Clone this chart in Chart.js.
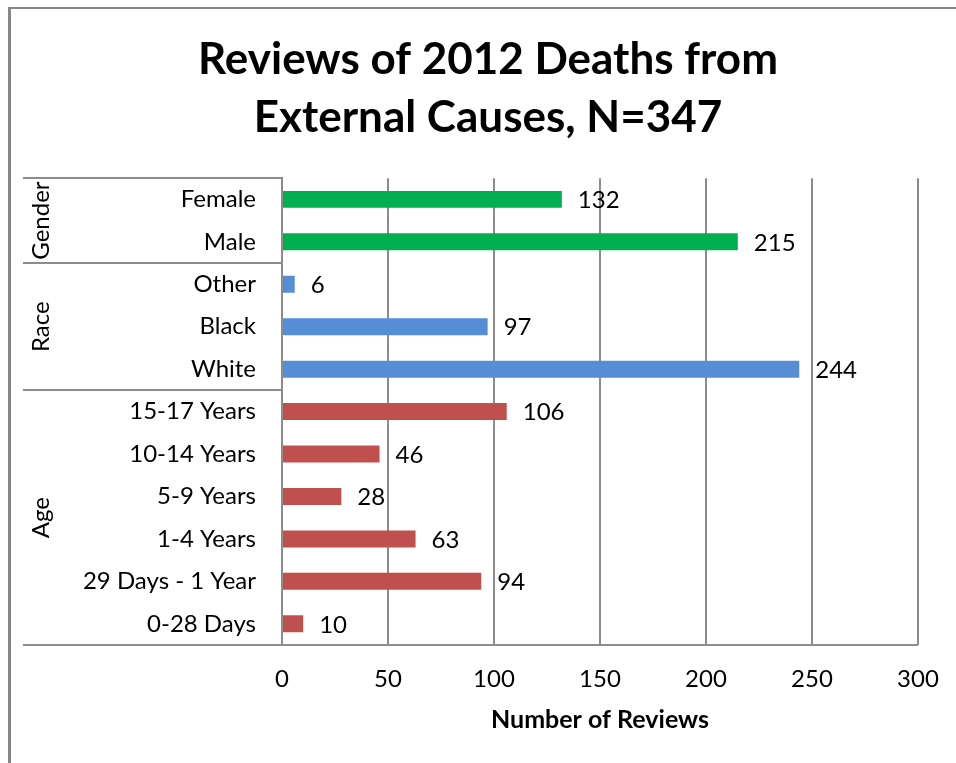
<!DOCTYPE html>
<html>
<head>
<meta charset="utf-8">
<script src="https://cdn.jsdelivr.net/npm/chart.js@4"></script>
<style>
    html, body { margin: 0; padding: 0; background: #fff; }
    #wrap { position: relative; width: 956px; height: 763px; overflow: hidden; }
    #frame {
        position: absolute; left: 8px; top: 7px; width: 1000px; height: 1000px;
        border-left: 3px solid #878787; border-top: 2px solid #878787;
    }
    canvas { position: absolute; left: 0; top: 0; }
</style>
</head>
<body>
<div id="wrap">
    <div id="frame"></div>
    <canvas id="chart" width="956" height="763"></canvas>
</div>
<script>
// =======================
// DATA
// =======================
let categories = [
    "Female", "Male",
    "Other", "Black", "White",
    "15-17 Years", "10-14 Years", "5-9 Years", "1-4 Years", "29 Days - 1 Year", "0-28 Days"
];
let reviews = [132, 215, 6, 97, 244, 106, 46, 28, 63, 94, 10];

let groupNames = ["Gender", "Race", "Age"];
let groupSizes = [2, 3, 6];
let groupColors = ["#00B050", "#558ED5", "#C0504D"];

let xTicks = [0, 50, 100, 150, 200, 250, 300];

const FONT = "Lato, 'Open Sans', sans-serif";
const LINE = "#8c8c8c";

// one colour per bar, taken from the group it belongs to
let barColors = [];
groupSizes.forEach((n, g) => {
    for (let i = 0; i < n; i++) barColors.push(groupColors[g]);
});

// =======================
// PLUGIN: group boxes + value labels
// =======================
const groupLabels = {
    id: "groupLabels",
    afterDraw(chart) {
        const ctx = chart.ctx;
        const y = chart.scales.y;
        const area = chart.chartArea;
        const leftX = 23;

        // boundaries between the groups
        let edges = [area.top];
        let idx = 0;
        groupSizes.forEach(n => {
            idx += n;
            if (idx < categories.length) {
                edges.push((y.getPixelForValue(idx - 1) + y.getPixelForValue(idx)) / 2);
            }
        });
        edges.push(area.bottom);

        ctx.save();
        ctx.strokeStyle = LINE;
        ctx.lineWidth = 2;
        edges.forEach(e => {
            ctx.beginPath();
            ctx.moveTo(leftX, Math.round(e));
            ctx.lineTo(area.left, Math.round(e));
            ctx.stroke();
        });
        // bottom line runs under the whole plot
        ctx.beginPath();
        ctx.moveTo(area.left, Math.round(area.bottom));
        ctx.lineTo(area.right, Math.round(area.bottom));
        ctx.stroke();

        // rotated group names
        ctx.fillStyle = "#000";
        ctx.font = "24px " + FONT;
        ctx.textAlign = "center";
        ctx.textBaseline = "middle";
        groupNames.forEach((name, g) => {
            const mid = (edges[g] + edges[g + 1]) / 2;
            ctx.save();
            ctx.translate(41, mid);
            ctx.rotate(-Math.PI / 2);
            ctx.fillText(name, 0, 0);
            ctx.restore();
        });

        // value labels at the end of each bar
        const meta = chart.getDatasetMeta(0);
        ctx.textAlign = "left";
        meta.data.forEach((bar, i) => {
            ctx.fillText(String(reviews[i]), bar.x + 16, bar.y + 1);
        });
        ctx.restore();
    }
};

// =======================
// CHART
// =======================
new Chart(document.getElementById("chart"), {
    type: "bar",
    data: {
        labels: categories,
        datasets: [{
            label: "Number of Reviews",
            data: reviews,
            backgroundColor: barColors,
            barPercentage: 0.4,
            categoryPercentage: 1
        }]
    },
    options: {
        indexAxis: "y",
        responsive: false,
        animation: false,
        devicePixelRatio: 1,
        layout: { padding: { left: 58, right: 38, top: 0, bottom: 0 } },
        plugins: {
            legend: { display: false },
            tooltip: { enabled: false },
            title: {
                display: true,
                text: ["Reviews of 2012 Deaths from", "External Causes, N=347"],
                color: "#000",
                font: { family: FONT, size: 44, weight: "bold", lineHeight: 1.32 },
                padding: { top: 31, bottom: 31 }
            }
        },
        scales: {
            x: {
                min: 0,
                max: 300,
                afterBuildTicks(scale) {
                    scale.ticks = xTicks.map(v => ({ value: v }));
                },
                afterFit(scale) {
                    scale.height = 118;
                    // the layout padding already leaves room for the end labels
                    scale.paddingLeft = 0;
                    scale.paddingRight = 0;
                },
                grid: { color: LINE, lineWidth: 2, drawTicks: false },
                border: { display: false },
                ticks: {
                    color: "#000",
                    padding: 20,
                    font: { family: FONT, size: 24 }
                },
                title: {
                    display: true,
                    text: "Number of Reviews",
                    color: "#000",
                    font: { family: FONT, size: 25, weight: "bold" },
                    padding: { top: 0, bottom: 28 }
                }
            },
            y: {
                afterFit(scale) { scale.width = 224; },
                grid: { display: false, drawTicks: false },
                border: { display: true, color: LINE, width: 2 },
                ticks: {
                    color: "#000",
                    padding: 26,
                    font: { family: FONT, size: 24 }
                }
            }
        }
    },
    plugins: [groupLabels]
});
</script>
</body>
</html>
